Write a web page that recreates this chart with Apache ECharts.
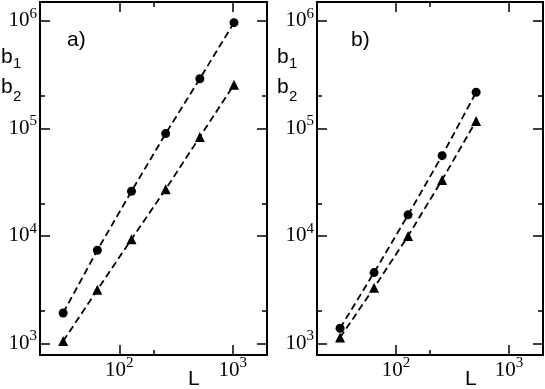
<!DOCTYPE html>
<html>
<head>
<meta charset="utf-8">
<script src="https://cdn.jsdelivr.net/npm/echarts@6/dist/echarts.min.js"></script>
<style>
  html, body { margin: 0; padding: 0; background: #fff; }
  #chart { width: 545px; height: 389px; }
</style>
</head>
<body>
<div id="chart"></div>
<script>
// panel a)
const L_a = [32, 64, 128, 256, 512, 1024]
const b1_a = [1920, 7360, 26000, 89500, 290000, 964000]
const b2_a = [1050, 3150, 9310, 27200, 83400, 255000]
// panel b)
const L_b = [32, 64, 128, 256, 512]
const b1_b = [1384, 4560, 15700, 55800, 217000]
const b2_b = [1132, 3300, 10000, 33200, 117500]

const xRange = [20, 2000]
const yRange = [780, 1.5e6]
const xMajor = [100, 1000]
const xMinor = [200]
const yMajor = [1e3, 1e4, 1e5, 1e6]
const yMinor = [2e3, 2e4, 2e5]

const serif = 'Liberation Serif'
const sans = 'Liberation Sans'

const labelRich = {
  b: { fontFamily: serif, fontSize: 21, lineHeight: 21, color: '#000' },
  s: { fontFamily: serif, fontSize: 15, lineHeight: 15, padding: [0, 0, 14, 0], color: '#000' }
}
const powLabel = v => '{b|10}{s|' + Math.round(Math.log10(v)) + '}'

function makeAxis(dim, gridIndex, position, ticks, len, withLabels) {
  const range = dim === 'x' ? xRange : yRange
  return {
    type: 'log',
    logBase: 10,
    gridIndex: gridIndex,
    position: position,
    min: range[0],
    max: range[1],
    axisLine: { show: true, lineStyle: { color: '#000', width: 2 } },
    axisTick: {
      show: true,
      inside: true,
      length: len,
      customValues: ticks,
      lineStyle: { color: '#000', width: 1.5 }
    },
    axisLabel: withLabels ? {
      show: true,
      customValues: ticks,
      margin: dim === 'x' ? 5 : 3,
      formatter: powLabel,
      rich: labelRich
    } : { show: false },
    splitLine: { show: false },
    minorTick: { show: false }
  }
}

const xAxes = []
const yAxes = []
for (let g = 0; g < 2; g++) {
  xAxes.push(makeAxis('x', g, 'bottom', xMajor, 10, true))
  xAxes.push(makeAxis('x', g, 'bottom', xMinor, 5, false))
  xAxes.push(makeAxis('x', g, 'top', xMajor, 10, false))
  xAxes.push(makeAxis('x', g, 'top', xMinor, 5, false))
  yAxes.push(makeAxis('y', g, 'left', yMajor, 10, true))
  yAxes.push(makeAxis('y', g, 'left', yMinor, 5, false))
  yAxes.push(makeAxis('y', g, 'right', yMajor, 10, false))
  yAxes.push(makeAxis('y', g, 'right', yMinor, 5, false))
}

function pairs(xs, ys) {
  return xs.map((x, i) => [x, ys[i]])
}

function makeSeries(name, axisIndex, xs, ys, symbol, size) {
  return {
    name: name,
    type: 'line',
    xAxisIndex: axisIndex,
    yAxisIndex: axisIndex,
    data: pairs(xs, ys),
    symbol: symbol,
    symbolSize: size,
    showAllSymbol: true,
    itemStyle: { color: '#000' },
    lineStyle: { color: '#000', width: 1.8, type: [7, 4] },
    emphasis: { disabled: true },
    silent: true
  }
}

function txt(x, y, text, size) {
  return {
    type: 'text',
    x: x,
    y: y,
    style: {
      text: text,
      fill: '#000',
      font: size + 'px "' + sans + '"',
      align: 'left',
      verticalAlign: 'top'
    }
  }
}

const chart = echarts.init(document.getElementById('chart'))
chart.setOption({
  animation: false,
  backgroundColor: '#fff',
  grid: [
    { left: 40, right: 278, top: 2, bottom: 34 },
    { left: 317, right: 2, top: 2, bottom: 34 }
  ],
  xAxis: xAxes,
  yAxis: yAxes,
  series: [
    makeSeries('b1 a', 0, L_a, b1_a, 'circle', 9),
    makeSeries('b2 a', 0, L_a, b2_a, 'triangle', 10),
    makeSeries('b1 b', 4, L_b, b1_b, 'circle', 9),
    makeSeries('b2 b', 4, L_b, b2_b, 'triangle', 10)
  ],
  graphic: [
    txt(67, 30, 'a)', 21),
    txt(1, 47, 'b', 21),
    txt(13, 56, '1', 15),
    txt(1, 77, 'b', 21),
    txt(13, 89, '2', 15),
    txt(188, 369, 'L', 21),
    txt(351, 30, 'b)', 21),
    txt(277, 47, 'b', 21),
    txt(289, 56, '1', 15),
    txt(277, 77, 'b', 21),
    txt(289, 89, '2', 15),
    txt(465, 369, 'L', 21)
  ]
})
</script>
</body>
</html>
